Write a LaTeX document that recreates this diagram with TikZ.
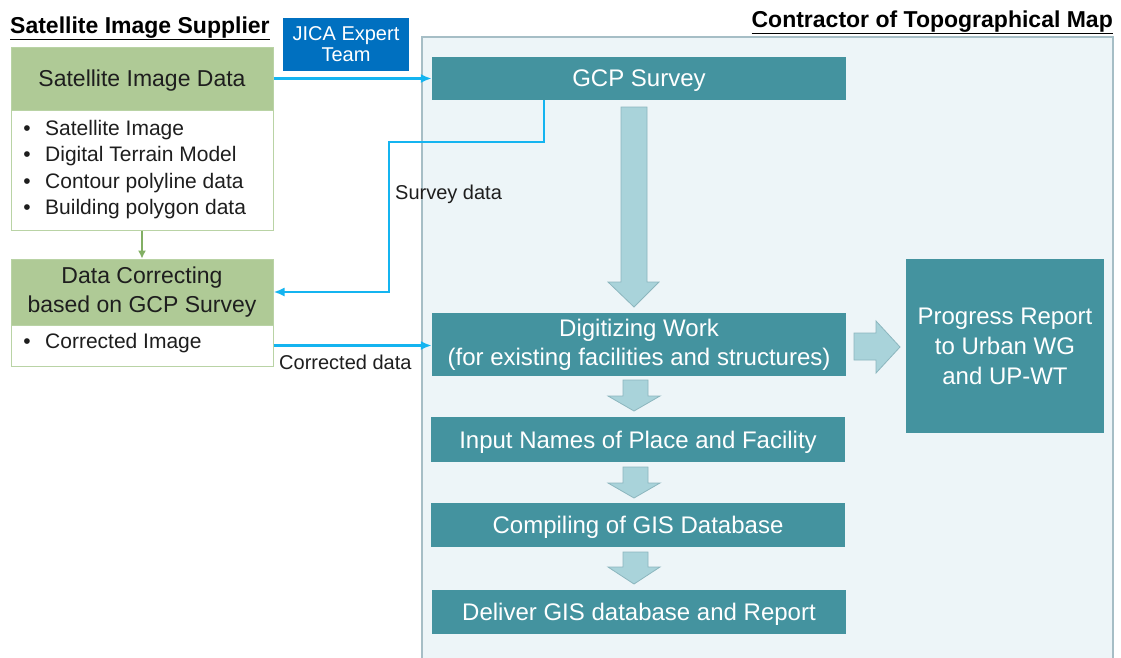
\documentclass[tikz,border=0pt]{standalone}
\usepackage{fontspec}
\setmainfont{Liberation Sans}
\usetikzlibrary{calc,arrows.meta}
\definecolor{tealbox}{RGB}{68,147,159}
\definecolor{arrowfill}{RGB}{169,211,218}
\definecolor{arrowline}{RGB}{140,182,190}
\definecolor{contrbg}{RGB}{237,245,248}
\definecolor{contrline}{RGB}{166,190,198}
\definecolor{greenhead}{RGB}{175,202,150}
\definecolor{greenline}{RGB}{185,211,165}
\definecolor{greenarrow}{RGB}{130,175,100}
\definecolor{blueline}{RGB}{20,180,240}
\definecolor{jicablue}{RGB}{0,112,192}
\definecolor{textdark}{RGB}{30,30,30}
\tikzset{
  tbox/.style={fill=tealbox, draw=none, text=white, inner sep=0pt, align=center,
    font=\fontsize{24}{29}\selectfont},
  ghead/.style={fill=greenhead, draw=greenline, line width=1pt, text=textdark, inner sep=0pt,
    align=center, minimum width=262pt, font=\fontsize{23}{29}\selectfont},
  gbody/.style={fill=white, draw=greenline, line width=1pt, inner sep=0pt, minimum width=262pt},
  bul/.style={anchor=base, inner sep=0pt, text=textdark, font=\fontsize{21}{26}\selectfont},
  btxt/.style={anchor=base west, inner sep=0pt, text=textdark, font=\fontsize{21}{26}\selectfont},
  lbl/.style={anchor=base west, inner sep=0pt, text=textdark, font=\fontsize{20}{24}\selectfont},
  title/.style={inner sep=0pt, text=black, font=\bfseries\fontsize{23}{26}\selectfont},
  bline/.style={draw=blueline, line width=2.2pt, -{Latex[length=11pt,width=9pt]}},
  blockarrow/.style={fill=arrowfill, draw=arrowline, line width=0.8pt, line join=miter},
}
\begin{document}
\begin{tikzpicture}[x=1pt,y=-1pt]
\useasboundingbox (0,0) rectangle (1121,657);
\fill[white] (0,0) rectangle (1121,657);

% contractor area
\draw[fill=contrbg, draw=contrline, line width=1.2pt] (422,37) rectangle (1113,670);
\node[title, anchor=base east] (ctitle) at (1113,27) {\underline{Contractor of Topographical Map}};

% left supplier
\node[title, anchor=base west] (stitle) at (10,33) {\underline{Satellite Image Supplier}};
\node[fill=jicablue, text=white, inner sep=0pt, minimum width=126pt, minimum height=53pt,
  align=center, font=\fontsize{20}{21}\selectfont] (jica) at (346,44.5) {JICA Expert\\Team};

\node[gbody, minimum height=120pt] (satbody) at (142,170) {};
\node[ghead, minimum height=63pt, text depth=0pt] (sathead) at (142,78.5) {Satellite Image Data};
\node[bul] (b1) at (27,135) {\textbullet};
\node[btxt] (t1) at (45,135) {Satellite Image};
\node[bul] (b2) at (27,161.5) {\textbullet};
\node[btxt] (t2) at (45,161.5) {Digital Terrain Model};
\node[bul] (b3) at (27,188) {\textbullet};
\node[btxt] (t3) at (45,188) {Contour polyline data};
\node[bul] (b4) at (27,214.5) {\textbullet};
\node[btxt] (t4) at (45,214.5) {Building polygon data};

\node[gbody, minimum height=41pt] (corbody) at (142,345.5) {};
\node[ghead, minimum height=66pt] (corhead) at (142,292) {Data Correcting\\based on GCP Survey};
\node[bul] (b5) at (27,348) {\textbullet};
\node[btxt] (t5) at (45,348) {Corrected Image};

\draw[greenarrow, line width=1.2pt, -{Latex[length=8pt,width=8pt]}] (satbody.south) -- (corhead.north);

% teal boxes
\node[tbox, minimum width=414pt, minimum height=43pt, text depth=0pt] (gcp) at (639,78.5) {GCP Survey};
\node[tbox, minimum width=414pt, minimum height=63pt] (dig) at (639,344.5) {Digitizing Work\\(for existing facilities and structures)};
\node[tbox, minimum width=414pt, minimum height=45pt, text depth=0pt] (inp) at (638,439.5) {Input Names of Place and Facility};
\node[tbox, minimum width=414pt, minimum height=44pt, text depth=0pt] (comp) at (638,525) {Compiling of GIS Database};
\node[tbox, minimum width=414pt, minimum height=44pt, text depth=0pt] (deliv) at (639,612) {Deliver GIS database and Report};
\node[tbox, minimum width=198pt, minimum height=174pt, font=\fontsize{24}{30}\selectfont] (prog) at (1005,346) {Progress Report\\to Urban WG\\and UP-WT};

% block arrows
\draw[blockarrow] (621,107) -- (647,107) -- (647,282) -- (659,282) -- (634,307) -- (608,282) -- (621,282) -- cycle;
\draw[blockarrow] (623,380) -- (648,380) -- (648,396) -- (660,396) -- (634,411) -- (608,396) -- (623,396) -- cycle;
\draw[blockarrow] (623,467) -- (648,467) -- (648,483) -- (660,483) -- (634,498) -- (608,483) -- (623,483) -- cycle;
\draw[blockarrow] (623,552) -- (648,552) -- (648,567) -- (660,567) -- (634,584) -- (608,567) -- (623,567) -- cycle;
\draw[blockarrow] (854,333) -- (876,333) -- (876,321) -- (900,347) -- (876,373) -- (876,360) -- (854,360) -- cycle;

% blue connectors
\coordinate (sv1) at (544,142);
\coordinate (sv2) at (389,142);
\draw[bline] (sathead.east) -- (gcp.west);
\draw[bline] (gcp.south -| sv1) -- (sv1) -- (sv2) |- (corhead.east);
\draw[bline] (corbody.east) -- (corbody.east -| dig.west);
\node[lbl] (svlbl) at (395,199) {Survey data};
\node[lbl] (cdlbl) at (279,369) {Corrected data};
\end{tikzpicture}
\end{document}
